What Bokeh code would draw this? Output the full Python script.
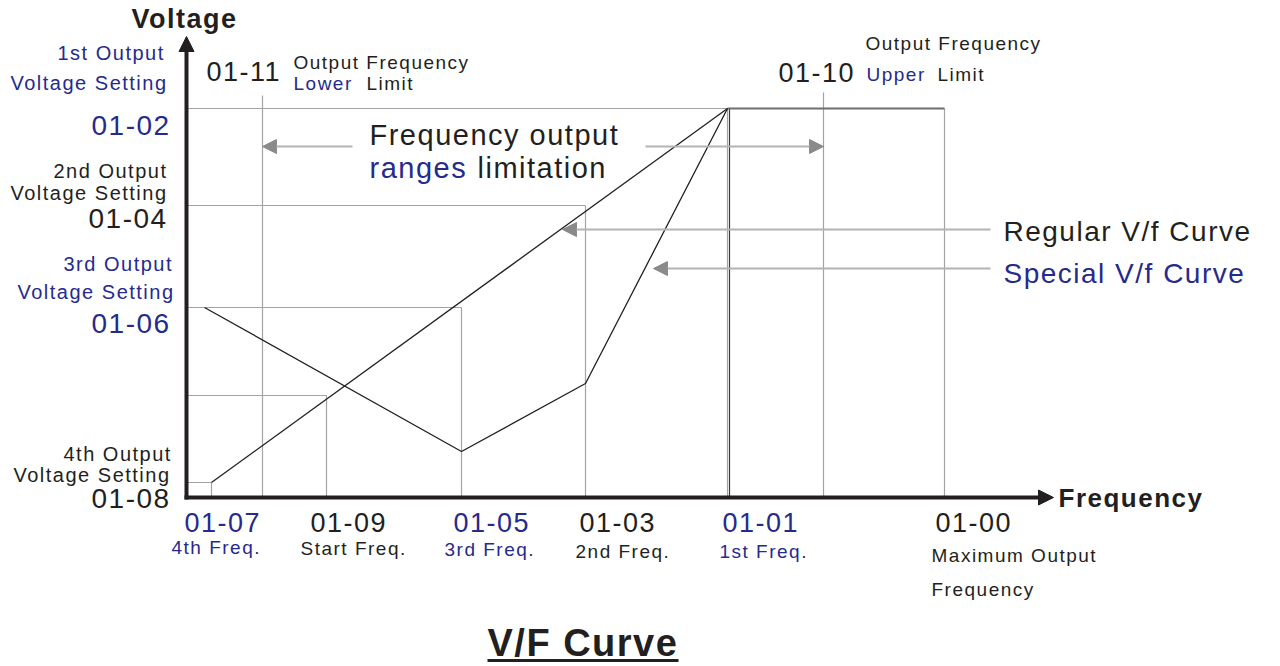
from bokeh.plotting import figure
from bokeh.models import Range1d, Arrow, NormalHead
from bokeh.core.properties import value
from bokeh.embed import file_html
from bokeh.resources import INLINE

BLACK = "#231f20"
BLUE = "#262a8c"
GRID = "#a3a3a3"
ARROW = "#8a8a8a"
ARROW_LINE = "#b3b3b3"
FONT = value("Liberation Sans")

# ---------------- data (diagram units) ----------------
# frequency settings along the frequency axis
freq_codes = ["01-07", "01-11", "01-09", "01-05", "01-03", "01-01", "01-10", "01-00"]
freq_values = [25, 76, 140, 275, 399, 541, 637, 758]
# voltage settings along the voltage axis
volt_codes = ["01-08", "start", "01-06", "01-04", "01-02"]
volt_values = [15, 102, 190, 292, 389]
# height reached by the limit marker lines (01-11, 01-10)
limit_line_top = [402, 405]

# regular V/f curve (straight line from 4th point to 1st point)
regular_f = [25, 541]
regular_v = [15, 389]
# special V/f curve
special_f = [18, 275, 399, 541]
special_v = [190, 46, 114, 389]
# flat part above 1st frequency up to max output frequency
flat_f = [541, 758]
flat_v = [389, 389]

F = dict(zip(freq_codes, freq_values))
V = dict(zip(volt_codes, volt_values))

p = figure(width=1280, height=666, x_range=Range1d(-186, 1094), y_range=Range1d(-169, 497),
           output_backend="svg", toolbar_location=None, x_axis_type=None, y_axis_type=None,
           min_border=0, outline_line_color=None)
p.grid.visible = False
p.styles = {"letter-spacing": "1.5px"}


def X(px):
    return px - 186


def Y(py):
    return 497 - py


# ---------------- guide lines ----------------
vx = [F["01-07"], F["01-09"], F["01-05"], F["01-03"], F["01-01"], F["01-00"], F["01-11"], F["01-10"]]
vtop = [V["01-08"], V["start"], V["01-06"], V["01-04"], V["01-02"], V["01-02"],
        limit_line_top[0], limit_line_top[1]]
p.segment(x0=vx, y0=[0] * len(vx), x1=vx, y1=vtop, line_color=GRID, line_width=1.2)

hy = [V["01-08"], V["start"], V["01-06"], V["01-04"], V["01-02"]]
hx = [F["01-07"], F["01-09"], F["01-05"], F["01-03"], F["01-01"]]
p.segment(x0=[0] * len(hy), y0=hy, x1=hx, y1=hy, line_color=GRID, line_width=1.2)

# dark line at the 1st frequency and the flat top
p.segment(x0=[F["01-01"] + 2], y0=[0], x1=[F["01-01"] + 2], y1=[V["01-02"]], line_color="#3a3a3a", line_width=1.2)
p.line(flat_f, flat_v, line_color="#6e6e6e", line_width=2)

# curves
p.line(regular_f, regular_v, line_color=BLACK, line_width=1.3)
p.line(special_f, special_v, line_color=BLACK, line_width=1.3)

# ---------------- axes ----------------
p.add_layout(Arrow(x_start=0, y_start=-2, x_end=0, y_end=Y(36), line_color=BLACK, line_width=4,
                   end=NormalHead(size=15, fill_color=BLACK, line_color=BLACK)))
p.add_layout(Arrow(x_start=-2, y_start=0, x_end=X(1053), y_end=0, line_color=BLACK, line_width=4,
                   end=NormalHead(size=15, fill_color=BLACK, line_color=BLACK)))


# ---------------- pointer arrows ----------------
def garrow(x0, y0, x1, y1):
    p.add_layout(Arrow(x_start=x0, y_start=y0, x_end=x1, y_end=y1, line_color=ARROW_LINE, line_width=2,
                       end=NormalHead(size=14, fill_color=ARROW, line_color=ARROW)))


garrow(X(352), Y(146), F["01-11"], Y(146))
garrow(X(645), Y(146), F["01-10"], Y(146))
garrow(X(990), Y(229), X(562), Y(229))
garrow(X(990), Y(268), X(653), Y(268))


# ---------------- texts ----------------
def t(px, py, s, color=BLACK, size=20, bold=False):
    p.text(x=[X(px)], y=[Y(py)], text=[s], text_color=color, text_font=FONT,
           text_font_size=f"{size}px", text_align="left", text_baseline="middle",
           text_font_style="bold" if bold else "normal")


t(131, 18, "Voltage", size=27, bold=True)
t(57, 52, "1st Output", BLUE)
t(10, 82, "Voltage Setting", BLUE)
t(91, 125, "01-02", BLUE, 28)
t(53, 170, "2nd Output")
t(10, 192, "Voltage Setting")
t(88, 218, "01-04", size=28)
t(63, 263, "3rd Output", BLUE)
t(17, 291, "Voltage Setting", BLUE)
t(91, 323, "01-06", BLUE, 28)
t(63, 453, "4th Output")
t(13, 474, "Voltage Setting")
t(91, 498, "01-08", size=28)

t(206, 71, "01-11", size=27)
t(293, 62, "Output  Frequency", size=19)
t(293, 83, "Lower", BLUE, 19)
t(366, 83, "Limit", size=19)
t(865, 43, "Output  Frequency", size=19)
t(778, 72, "01-10", size=27)
t(866, 74, "Upper", BLUE, 19)
t(937, 74, "Limit", size=19)

t(369, 134, "Frequency output", size=29)
t(369, 167, "ranges", BLUE, 29)
t(477, 167, "limitation", size=29)

t(1003, 231, "Regular V/f Curve", size=28)
t(1003, 273, "Special V/f Curve", BLUE, 28)
t(1058, 497, "Frequency", size=26, bold=True)

t(184, 522, "01-07", BLUE, 27)
t(310, 522, "01-09", size=27)
t(453, 522, "01-05", BLUE, 27)
t(579, 522, "01-03", size=27)
t(722, 522, "01-01", BLUE, 27)
t(935, 522, "01-00", size=27)

t(171, 547, "4th Freq.", BLUE, 19)
t(300, 548, "Start Freq.", size=19)
t(444, 549, "3rd Freq.", BLUE, 19)
t(575, 551, "2nd Freq.", size=19)
t(719, 551, "1st Freq.", BLUE, 19)
t(931, 555, "Maximum Output", size=19)
t(931, 589, "Frequency", size=19)

t(487, 642, "V/F Curve", size=38, bold=True)
p.segment(x0=[X(487)], y0=[Y(660)], x1=[X(678)], y1=[Y(660)], line_color=BLACK, line_width=3)

open("out.html", "w").write(file_html(p, INLINE))
